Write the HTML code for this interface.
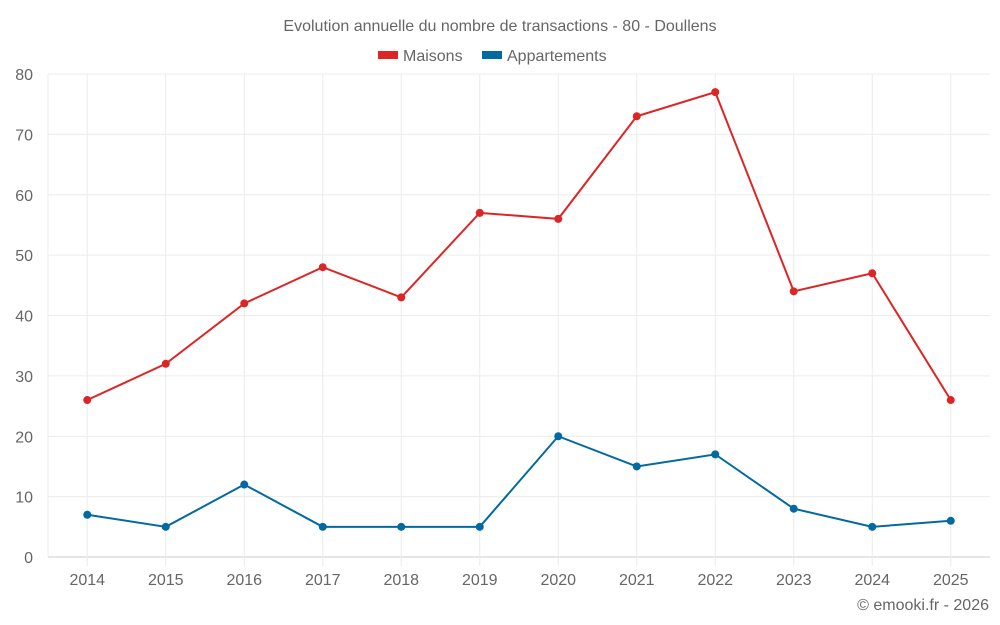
<!DOCTYPE html>
<html><head><meta charset="utf-8"><style>
html,body{margin:0;padding:0;background:#fff;}
svg{display:block;font-family:"Liberation Sans",sans-serif;}
</style></head><body>
<svg id="chart" width="1000" height="625">
<text x="500" y="31" text-anchor="middle" font-size="16" fill="#666">Evolution annuelle du nombre de transactions - 80 - Doullens</text>
<g>
<g><rect x="378" y="51" width="20" height="8" fill="#dc2626"/><text x="403" y="61" font-size="16" fill="#666">Maisons</text></g>
<g><rect x="482" y="51" width="20" height="8" fill="#0369a1"/><text x="507" y="61" font-size="16" fill="#666">Appartements</text></g>
</g>
<g id="grid"></g><g id="axes"></g><g id="series"></g>
<text x="989" y="610" text-anchor="end" font-size="16" fill="#666">© emooki.fr - 2026</text>
</svg>
<script>
const categories=["2014","2015","2016","2017","2018","2019","2020","2021","2022","2023","2024","2025"];
const maisons=[26,32,42,48,43,57,56,73,77,44,47,26];
const appartements=[7,5,12,5,5,5,20,15,17,8,5,6];
const yTicks=[0,10,20,30,40,50,60,70,80];
const L=48,R=990,T=74,B=557,yMax=80;
const bw=(R-L)/categories.length;
const x=i=>L+bw*(i+0.5);
const y=v=>B-(v/yMax)*(B-T);
const NS="http://www.w3.org/2000/svg";
function mk(t,a,p){const e=document.createElementNS(NS,t);for(const k in a)e.setAttribute(k,a[k]);p.appendChild(e);return e;}
const grid=document.getElementById('grid'),axes=document.getElementById('axes'),ser=document.getElementById('series');
yTicks.forEach(v=>{
 const l=mk('line',{x1:L,x2:R,y1:y(v),y2:y(v),stroke:v===0?'#ccc':'#ececec'},grid);
 
 
 const t=mk('text',{x:33,y:y(v)+6,'text-anchor':'end','font-size':16,fill:'#666'},axes);
 t.textContent=v;
 
 
});
const ya=mk('line',{x1:L,x2:L,y1:T,y2:B,stroke:'#ececec'},grid);


categories.forEach((c,i)=>{
 const l=mk('line',{x1:x(i),x2:x(i),y1:T,y2:566,stroke:'#ececec'},grid);
 
 
 const t=mk('text',{x:x(i),y:585,'text-anchor':'middle','font-size':16,fill:'#666'},axes);
 t.textContent=c;
 
 
});
function draw(data,color,name){
 const p=mk('polyline',{points:data.map((v,i)=>x(i)+','+y(v)).join(' '),fill:'none',stroke:color,'stroke-width':2},ser);
 
 
 data.forEach((v,i)=>{
  const c=mk('circle',{cx:x(i),cy:y(v),r:4,fill:color},ser);
  
  
 });
}
draw(maisons,'#dc2626','maisons');
draw(appartements,'#0369a1','appartements');
</script>
</body></html>
